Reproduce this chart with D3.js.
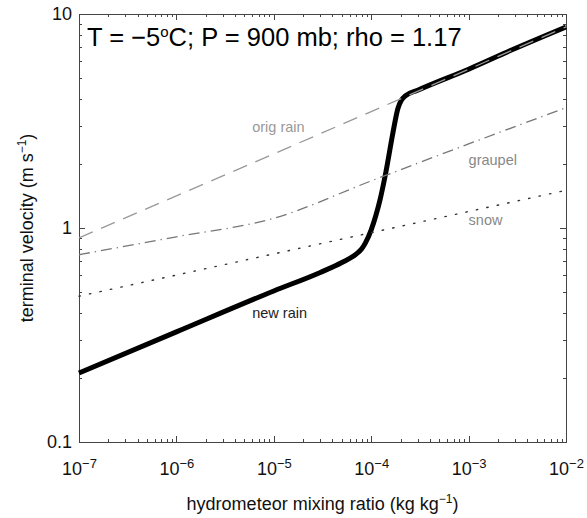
<!DOCTYPE html>
<html>
<head>
  <meta charset="utf-8">
  <title>Terminal velocity vs mixing ratio</title>
  <script src="https://d3js.org/d3.v7.min.js"></script>
  <style>
    body { margin: 0; background: #fff; font-family: "Liberation Sans", Arial, Helvetica, sans-serif; }
    .axis path, .axis line { fill: none; stroke: #444; shape-rendering: crispEdges; }
    .axis text { font-size: 18px; fill: #111; }
  </style>
</head>
<body>
  <svg width="587" height="518"></svg>
  <script>
    // mixing ratio (kg/kg) and terminal velocity (m/s)
    const newRainQ = [1e-7, 1e-6, 1e-5, 3e-5, 5e-5, 7e-5, 8e-5, 8.7e-5, 1e-4, 1.12e-4, 1.23e-4, 1.41e-4, 1.67e-4, 1.88e-4, 2.04e-4, 2.24e-4, 3e-4, 1e-3, 3e-3, 1e-2];
    const newRainV = [0.21, 0.327, 0.508, 0.62, 0.69, 0.755, 0.80, 0.85, 0.98, 1.15, 1.35, 1.81, 2.78, 3.62, 3.95, 4.14, 4.4, 5.52, 6.9, 8.7];
    const origRainQ = [1e-7, 1e-5, 1e-4, 1e-3, 1e-2];
    const origRainV = [0.90, 2.22, 3.50, 5.52, 8.7];
    const graupelQ = [1e-7, 1e-6, 1e-5, 1e-4, 1e-3, 1e-2];
    const graupelV = [0.75, 0.91, 1.11, 1.66, 2.47, 3.65];
    const snowQ = [1e-7, 1e-2];
    const snowV = [0.48, 1.5];

    const xMajor = [-7, -6, -5, -4, -3, -2];
    const yMajor = ["0.1", "1", "10"];
    const labels = [
      { text: "orig rain", q: 6e-6, v: 2.81, color: "#999" },
      { text: "graupel", q: 1e-3, v: 1.97, color: "#888" },
      { text: "snow", q: 1e-3, v: 1.03, color: "#888" },
      { text: "new rain", q: 6e-6, v: 0.38, color: "#222" }
    ];

    const svg = d3.select("svg"),
          margin = {top: 14, right: 21, bottom: 76, left: 79},
          width = +svg.attr("width") - margin.left - margin.right,
          height = +svg.attr("height") - margin.top - margin.bottom;

    const g = svg.append("g").attr("transform", `translate(${margin.left},${margin.top})`);

    const x = d3.scaleLog().domain([1e-7, 1e-2]).range([0, width]);
    const y = d3.scaleLog().domain([0.1, 10]).range([height, 0]);

    const xMinor = [], yMinor = [];
    for (let e = -7; e < -2; e++) for (let k = 2; k < 10; k++) xMinor.push(k * Math.pow(10, e));
    for (let e = -1; e < 1; e++) for (let k = 2; k < 10; k++) yMinor.push(k * Math.pow(10, e));
    const xMajorV = xMajor.map(e => Math.pow(10, e));
    const yMajorV = yMajor.map(Number);

    // minor ticks, all four sides, pointing inward
    const minor = [
      [d3.axisBottom(x).tickValues(xMinor), `translate(0,${height})`],
      [d3.axisTop(x).tickValues(xMinor), null],
      [d3.axisLeft(y).tickValues(yMinor), null],
      [d3.axisRight(y).tickValues(yMinor), `translate(${width},0)`]
    ];
    minor.forEach(([ax, tr]) => {
      const a = g.append("g").attr("class", "axis").attr("transform", tr)
        .call(ax.tickSize(-3).tickSizeOuter(0).tickFormat(""));
      a.select(".domain").remove();
    });

    const bottom = g.append("g").attr("class", "axis").attr("transform", `translate(0,${height})`)
      .call(d3.axisBottom(x).tickValues(xMajorV).tickSize(-6).tickSizeOuter(0).tickPadding(14));
    bottom.selectAll(".tick text").each(function(d, i) {
      const t = d3.select(this).text("").attr("dy", "1.05em");
      t.append("tspan").text("10");
      t.append("tspan").attr("dy", -7).attr("font-size", "13px").text("\u2212" + (-xMajor[i]));
    });

    g.append("g").attr("class", "axis")
      .call(d3.axisTop(x).tickValues(xMajorV).tickSize(-6).tickSizeOuter(0).tickFormat(""));
    g.append("g").attr("class", "axis")
      .call(d3.axisLeft(y).tickValues(yMajorV).tickSize(-6).tickSizeOuter(0).tickPadding(7)
        .tickFormat((d, i) => yMajor[i]));
    g.append("g").attr("class", "axis").attr("transform", `translate(${width},0)`)
      .call(d3.axisRight(y).tickValues(yMajorV).tickSize(-6).tickSizeOuter(0).tickFormat(""));

    const line = d3.line().x(d => x(d[0])).y(d => y(d[1]));
    const zip = (a, b) => a.map((v, i) => [v, b[i]]);

    g.append("path").datum(zip(newRainQ, newRainV))
      .attr("d", line.curve(d3.curveMonotoneX))
      .attr("fill", "none").attr("stroke", "#000").attr("stroke-width", 5)
      .attr("stroke-linejoin", "round");

    g.append("path").datum(zip(snowQ, snowV))
      .attr("d", line.curve(d3.curveLinear))
      .attr("fill", "none").attr("stroke", "#333").attr("stroke-width", 1.4)
      .attr("stroke-dasharray", "1.4,9.3").attr("stroke-linecap", "round");

    g.append("path").datum(zip(graupelQ, graupelV))
      .attr("d", line.curve(d3.curveMonotoneX))
      .attr("fill", "none").attr("stroke", "#777").attr("stroke-width", 1.3)
      .attr("stroke-dasharray", "11,5,1.3,5");

    g.append("path").datum(zip(origRainQ, origRainV))
      .attr("d", line.curve(d3.curveLinear))
      .attr("fill", "none").attr("stroke", "#999").attr("stroke-width", 1.3)
      .attr("stroke-dasharray", "15,9");

    g.selectAll(".lbl").data(labels).join("text")
      .attr("class", "lbl")
      .attr("x", d => x(d.q)).attr("y", d => y(d.v))
      .attr("font-size", "14.5px").attr("fill", d => d.color)
      .text(d => d.text);

    const title = g.append("text").attr("x", 8).attr("y", 32).attr("font-size", "25.5px").attr("fill", "#000");
    title.append("tspan").text("T = \u22125");
    title.append("tspan").attr("dy", -9).attr("font-size", "15px").text("o");
    title.append("tspan").attr("dy", 9).text("C; P = 900 mb; rho = 1.17");

    const xt = svg.append("text").attr("x", margin.left + width / 2).attr("y", 510)
      .attr("text-anchor", "middle").attr("font-size", "18px").attr("fill", "#111");
    xt.append("tspan").text("hydrometeor mixing ratio (kg kg");
    xt.append("tspan").attr("dy", -7).attr("font-size", "12px").text("\u22121");
    xt.append("tspan").attr("dy", 7).text(")");

    const yt = svg.append("text")
      .attr("transform", `translate(33,${margin.top + height / 2}) rotate(-90)`)
      .attr("text-anchor", "middle").attr("font-size", "18px").attr("fill", "#111");
    yt.append("tspan").text("terminal velocity (m s");
    yt.append("tspan").attr("dy", -7).attr("font-size", "12px").text("\u22121");
    yt.append("tspan").attr("dy", 7).text(")");
  </script>
</body>
</html>
